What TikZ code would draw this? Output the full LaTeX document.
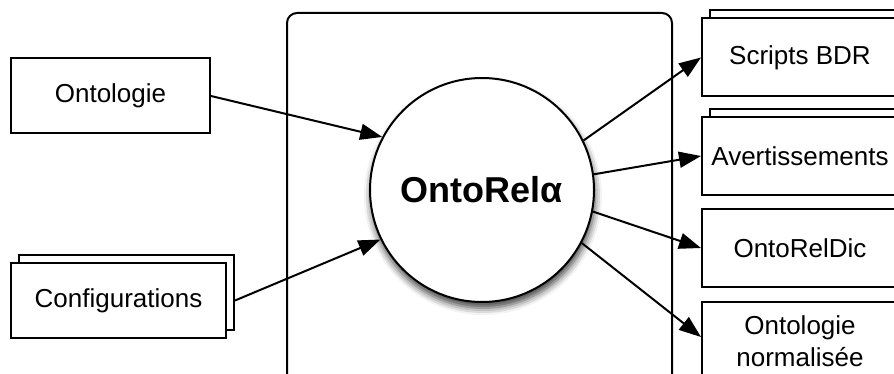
\documentclass[tikz,border=0pt]{standalone}
\usepackage{fontspec}
\setmainfont{Liberation Sans}
\usetikzlibrary{arrows.meta,shadows,shadows.blur}

\begin{document}
\begin{tikzpicture}[x=1pt, y=-1pt, line width=2pt,
    doc/.style={draw, fill=white, inner sep=0pt, align=center,
      minimum width=196pt, minimum height=78pt,
      font=\fontsize{26}{32}\selectfont},
    docs/.style={doc, copy shadow={shadow xshift=8pt, shadow yshift=8pt}},
    flow/.style={-{Triangle[length=22pt, width=16pt]}}]
  \useasboundingbox (0,0) rectangle (894,374);
  \clip (0,0) rectangle (894,374);

  % System boundary
  \draw[rounded corners=10pt] (287,13) rectangle (672,386);

  % Inputs
  \node[doc, minimum width=199pt, minimum height=75pt] (onto) at (110.5,96) {Ontologie};
  \node[docs, minimum width=215pt, minimum height=75pt] (conf) at (118.5,300.5) {Configurations};

  % Tool
  \node[circle, draw, fill=white, minimum size=224pt, inner sep=0pt,
    blur shadow={shadow xshift=1pt, shadow yshift=-6pt, shadow blur radius=7pt, shadow opacity=75},
    font=\fontsize{36}{40}\selectfont\bfseries] (core) at (482,190) {OntoRelα};

  % Outputs
  \node[docs] (scripts) at (800,57.5) {Scripts BDR};
  \node[docs] (avert) at (800,156) {Avertissements};
  \node[doc] (dic) at (800,248) {OntoRelDic};
  \node[doc] (norm) at (800,341) {Ontologie\\normalisée};

  \draw[flow] (onto.east) -- (core.152);
  \draw[flow] ([xshift=8pt]conf.east) -- (core.206);
  \draw[flow] (core.26) -- (scripts.west);
  \draw[flow] (core.8) -- (avert.west);
  \draw[flow] (core.-11) -- (dic.west);
  \draw[flow] (core.-28) -- ([yshift=4pt]norm.west);
\end{tikzpicture}
\end{document}
